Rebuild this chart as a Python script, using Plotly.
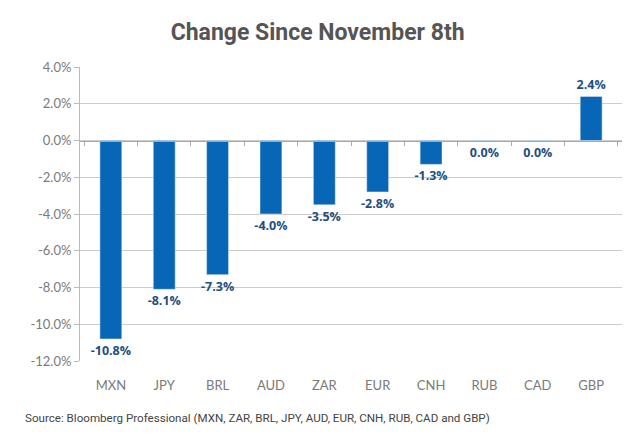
import plotly.graph_objects as go

categories = ["MXN", "JPY", "BRL", "AUD", "ZAR", "EUR", "CNH", "RUB", "CAD", "GBP"]
values = [-10.8, -8.1, -7.3, -4.0, -3.5, -2.8, -1.3, -0.03, -0.03, 2.4]
ytick_vals = [4, 2, 0, -2, -4, -6, -8, -10, -12]

def fmt(v):
    s = f"{v:.1f}"
    if s == "-0.0":
        s = "0.0"
    return s + "%"

labels = [fmt(v) for v in values]
ytick_text = [f"{v:.1f}%" for v in ytick_vals]

BAR = "#0866b6"
LABEL = "#1d4f80"

fig = go.Figure()
fig.add_trace(go.Bar(
    x=categories, y=values, marker_color=BAR,
    text=labels, textposition="outside", cliponaxis=False, constraintext="none",
    textfont=dict(family="Open Sans", size=12.5, color=LABEL, weight="bold"),
    width=0.41, hoverinfo="skip", showlegend=False,
))
fig.add_trace(go.Scatter(
    x=categories, y=values, xaxis="x2", mode="markers",
    marker=dict(opacity=0), hoverinfo="skip", showlegend=False,
))

fig.update_layout(
    width=623, height=427,
    margin=dict(l=72, r=9, t=59, b=74),
    paper_bgcolor="white", plot_bgcolor="white",
    title=dict(text="<b>Change Since November 8th</b>", x=0.497, xanchor="center",
               y=0.944, yanchor="middle",
               font=dict(family="Roboto", size=23, color="#555555")),
    xaxis=dict(type="category", showgrid=False, showline=False, ticks="",
               ticklabelstandoff=15,
               tickfont=dict(family="Lato", size=13, color="#7a7a7a"),
               zeroline=False),
    xaxis2=dict(type="category", overlaying="x", matches="x", anchor="free",
                position=0.75, showline=True, linecolor="#a8a8a8", linewidth=1,
                ticks="outside", tickson="boundaries", ticklen=4, tickcolor="#a8a8a8",
                showticklabels=False, showgrid=False, zeroline=False),
    yaxis=dict(range=[-12, 4], tickvals=ytick_vals, ticktext=ytick_text,
               showgrid=True, gridcolor="#cccccc", gridwidth=1,
               zeroline=False, showline=True, linecolor="#bbbbbb",
               ticks="outside", ticklen=5, tickcolor="#bbbbbb",
               tickfont=dict(family="Lato", size=13, color="#7a7a7a")),
    bargap=0.59,
)
fig.add_annotation(
    text="Source: Bloomberg Professional (MXN, ZAR, BRL, JPY, AUD, EUR, CNH, RUB, CAD and GBP)",
    xref="paper", yref="paper", x=-0.105, y=-0.194, xanchor="left", yanchor="middle",
    showarrow=False, font=dict(family="Roboto", size=11.6, color="#444444"),
)
fig.write_html("out.html")
